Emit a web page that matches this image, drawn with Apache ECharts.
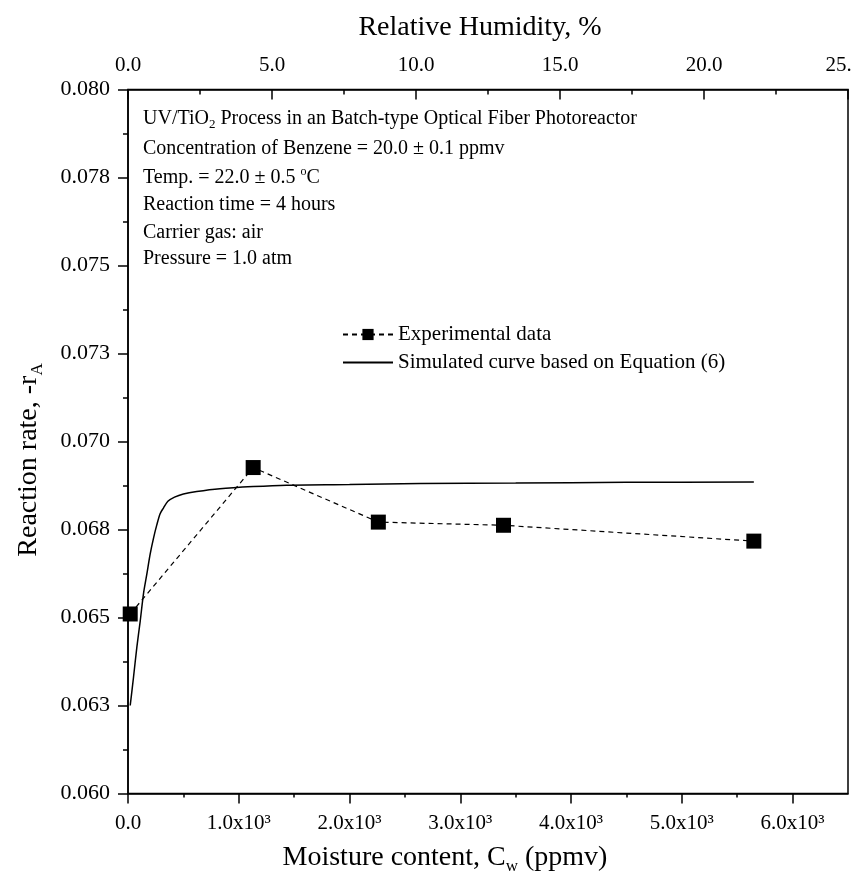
<!DOCTYPE html>
<html><head><meta charset="utf-8">
<script src="https://cdn.jsdelivr.net/npm/echarts@6/dist/echarts.min.js"></script>
<style>html,body{margin:0;padding:0;background:#fff}#c{width:857px;height:877px}</style>
</head><body><div id="c"></div>
<script>
// ---- data ----
const expX = [20, 1130, 2260, 3390, 5650];
const expY = [0.0651, 0.06926, 0.06771, 0.06762, 0.06717];
const simX = [20, 50, 80, 110, 140, 170, 200, 230, 260, 290, 320, 360, 420, 500, 620, 830, 1130, 1430, 2000, 2640, 3500, 4500, 5650];
const simY = [0.0625, 0.06331, 0.06416, 0.06489, 0.06568, 0.06623, 0.0668, 0.06725, 0.06763, 0.06795, 0.06811, 0.0683, 0.06842, 0.06851, 0.06858, 0.06866, 0.06872, 0.06876, 0.06878, 0.06881, 0.06882, 0.06884, 0.06885];
const xMajor = [0, 1000, 2000, 3000, 4000, 5000, 6000];
const xMinor = [500, 1500, 2500, 3500, 4500, 5500];
const xLabels = ['0.0', '1.0x10³', '2.0x10³', '3.0x10³', '4.0x10³', '5.0x10³', '6.0x10³'];
const yMajor = [0.06, 0.0625, 0.065, 0.0675, 0.07, 0.0725, 0.075, 0.0775, 0.08];
const yMinor = [0.06125, 0.06375, 0.06625, 0.06875, 0.07125, 0.07375, 0.07625, 0.07875];
const yLabels = ['0.060', '0.063', '0.065', '0.068', '0.070', '0.073', '0.075', '0.078', '0.080'];
const rhMajor = [0, 5, 10, 15, 20, 25];
const rhMinor = [2.5, 7.5, 12.5, 17.5, 22.5];
const rhLabels = ['0.0', '5.0', '10.0', '15.0', '20.0', '{r|25.}'];

const FONT = "'Liberation Serif', 'Times New Roman', serif";
const BLACK = '#000';
function lab(arr, labels) {
  return function (v) {
    let best = -1, d = Infinity;
    arr.forEach((a, i) => { const dd = Math.abs(a - v); if (dd < d) { d = dd; best = i; } });
    return d < 1e-6 * Math.max(1, Math.abs(v)) + 1e-9 ? labels[best] : '';
  };
}
const lineSt = { color: BLACK, width: 1.5 };

const chart = echarts.init(document.getElementById('c'), null, { renderer: 'canvas' });
chart.setOption({
  animation: false,
  backgroundColor: '#fff',
  grid: { left: 128, right: 9, top: 89.5, bottom: 83.5, show: true, borderColor: BLACK, borderWidth: 1.5, backgroundColor: 'transparent', containLabel: false, outerBoundsMode: 'none' },
  xAxis: [
    { type: 'value', position: 'bottom', min: 0, max: 6500,
      axisLine: { show: true, onZero: false, lineStyle: lineSt },
      axisTick: { show: true, inside: false, length: 10, lineStyle: lineSt, customValues: xMajor },
      axisLabel: { show: true, customValues: xMajor, formatter: lab(xMajor, xLabels), margin: 19, fontSize: 21, fontFamily: FONT, color: BLACK },
      splitLine: { show: false } },
    { type: 'value', position: 'bottom', min: 0, max: 6500,
      axisLine: { show: false, onZero: false },
      axisTick: { show: true, inside: false, length: 4, lineStyle: lineSt, customValues: xMinor },
      axisLabel: { show: false }, splitLine: { show: false } },
    { type: 'value', position: 'top', min: 0, max: 25,
      axisLine: { show: true, onZero: false, lineStyle: lineSt },
      axisTick: { show: true, inside: true, length: 10, lineStyle: lineSt, customValues: rhMajor },
      axisLabel: { show: true, customValues: rhMajor, formatter: lab(rhMajor, rhLabels), margin: 14, fontSize: 21, fontFamily: FONT, color: BLACK,
        rich: { r: { fontSize: 21, fontFamily: FONT, color: BLACK, padding: [0, 19, 0, 0] } } },
      splitLine: { show: false } },
    { type: 'value', position: 'top', min: 0, max: 25,
      axisLine: { show: false, onZero: false },
      axisTick: { show: true, inside: true, length: 5, lineStyle: lineSt, customValues: rhMinor },
      axisLabel: { show: false }, splitLine: { show: false } }
  ],
  yAxis: [
    { type: 'value', position: 'left', min: 0.06, max: 0.08,
      axisLine: { show: true, onZero: false, lineStyle: lineSt },
      axisTick: { show: true, inside: false, length: 10, lineStyle: lineSt, customValues: yMajor },
      axisLabel: { show: true, customValues: yMajor, formatter: lab(yMajor, yLabels), margin: 18, fontSize: 22, fontFamily: FONT, color: BLACK },
      splitLine: { show: false } },
    { type: 'value', position: 'left', min: 0.06, max: 0.08,
      axisLine: { show: false, onZero: false },
      axisTick: { show: true, inside: false, length: 5, lineStyle: lineSt, customValues: yMinor },
      axisLabel: { show: false }, splitLine: { show: false } }
  ],
  legend: {
    orient: 'vertical', left: 337, top: 319, itemWidth: 50, itemHeight: 14, itemGap: 7,
    textStyle: { fontSize: 21, fontFamily: FONT, color: BLACK },
    data: [
      { name: 'Experimental data' },
      { name: 'Simulated curve based on Equation (6)', itemStyle: { opacity: 0 } }
    ]
  },
  series: [
    { name: 'Experimental data', type: 'line', xAxisIndex: 0, yAxisIndex: 0,
      data: expX.map((x, i) => [x, expY[i]]),
      symbol: 'rect', symbolSize: 15, itemStyle: { color: BLACK },
      lineStyle: { color: BLACK, width: 1.2, type: [5, 4] }, z: 3 },
    { name: 'Simulated curve based on Equation (6)', type: 'line', xAxisIndex: 0, yAxisIndex: 0,
      data: simX.map((x, i) => [x, simY[i]]),
      symbol: 'none', smooth: 0.3, itemStyle: { color: BLACK },
      lineStyle: { color: BLACK, width: 1.5 }, z: 2 }
  ],
  graphic: [
    { type: 'text', left: 143, top: 109, style: { text: '{a|UV/TiO}{s|2}{a| Process in an Batch-type Optical Fiber Photoreactor}', rich: { a: { fontSize: 20, fontFamily: FONT, lineHeight: 24 }, s: { fontSize: 13, fontFamily: FONT, lineHeight: 10, verticalAlign: 'bottom' } }, fill: BLACK } },
    { type: 'text', left: 143, top: 139, style: { text: 'Concentration of Benzene = 20.0 ± 0.1 ppmv', font: '20px ' + FONT, fill: BLACK } },
    { type: 'text', left: 143, top: 166, style: { text: '{a|Temp. = 22.0 ± 0.5 }{p|o}{a|C}', rich: { a: { fontSize: 20, fontFamily: FONT, lineHeight: 24 }, p: { fontSize: 12, fontFamily: FONT, lineHeight: 8, verticalAlign: 'top' } }, fill: BLACK } },
    { type: 'text', left: 143, top: 195, style: { text: 'Reaction time = 4 hours', font: '20px ' + FONT, fill: BLACK } },
    { type: 'text', left: 143, top: 223, style: { text: 'Carrier gas: air', font: '20px ' + FONT, fill: BLACK } },
    { type: 'text', left: 143, top: 249, style: { text: 'Pressure = 1.0 atm', font: '20px ' + FONT, fill: BLACK } },
    { type: 'text', x: 480, y: 28, style: { text: 'Relative Humidity, %', font: '28px ' + FONT, fill: BLACK, align: 'center', verticalAlign: 'middle' } },
    { type: 'text', x: 445, y: 858, style: { text: '{a|Moisture content, C}{s|w}{a| (ppmv)}', rich: { a: { fontSize: 28, fontFamily: FONT, lineHeight: 34 }, s: { fontSize: 17, fontFamily: FONT, lineHeight: 12, verticalAlign: 'bottom' } }, fill: BLACK, align: 'center', verticalAlign: 'middle' } },
    { type: 'text', x: 29, y: 460, rotation: Math.PI / 2, style: { text: '{a|Reaction rate, -r}{s|A}', rich: { a: { fontSize: 28, fontFamily: FONT, lineHeight: 34 }, s: { fontSize: 17, fontFamily: FONT, lineHeight: 12, verticalAlign: 'bottom' } }, fill: BLACK, align: 'center', verticalAlign: 'middle' } }
  ]
});
</script>
</body></html>
